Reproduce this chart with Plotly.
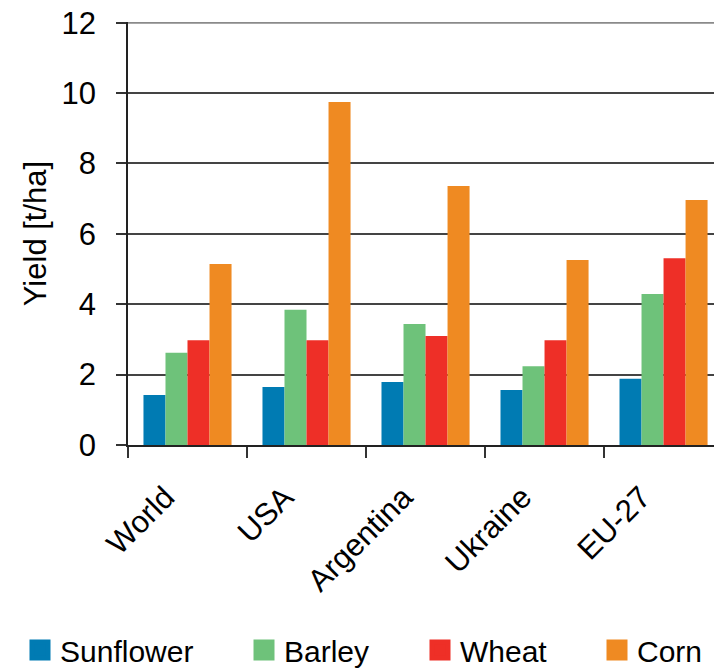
import plotly.graph_objects as go

regions = ["World", "USA", "Argentina", "Ukraine", "EU-27"]
crops = ["Sunflower", "Barley", "Wheat", "Corn"]
sunflower = [1.42, 1.65, 1.79, 1.56, 1.88]
barley = [2.62, 3.84, 3.44, 2.24, 4.29]
wheat = [2.98, 2.98, 3.10, 2.98, 5.31]
corn = [5.14, 9.75, 7.36, 5.26, 6.96]
colors = ["#007BB3", "#6EC27A", "#EE2F27", "#EF8A22"]
y_ticks = [0, 2, 4, 6, 8, 10, 12]

series = [sunflower, barley, wheat, corn]
FONT = "Liberation Sans, Arial, sans-serif"
TXT = 31

fig = go.Figure()
for name, vals, col in zip(crops, series, colors):
    fig.add_trace(go.Bar(x=regions, y=vals, name=name, marker_color=col,
                         marker_line_width=0, showlegend=False))

# legend entries with larger square swatches, one legend per entry
legend_x = [30, 254, 430, 607]
for i, (name, col) in enumerate(zip(crops, colors)):
    key = "legend" if i == 0 else f"legend{i + 1}"
    fig.add_trace(go.Scatter(x=[None], y=[None], mode="markers", name=name,
                             marker=dict(symbol="square", size=16, color=col,
                                         line=dict(color=col, width=5)),
                             legend=key, showlegend=True))
    fig.update_layout({key: dict(
        xref="container", yref="container",
        x=(legend_x[i] - 10) / 714, y=1 - 650 / 670,
        xanchor="left", yanchor="middle",
        orientation="h", itemsizing="trace",
        font=dict(family=FONT, size=30, color="#000"),
        bgcolor="rgba(0,0,0,0)", borderwidth=0,
    )})

# light top gridline at the upper end of the value axis
fig.add_shape(type="line", xref="paper", yref="y", x0=0, x1=1, y0=12, y1=12,
              line=dict(color="#8a8a8a", width=2), layer="below")

fig.update_layout(
    width=714, height=670,
    margin=dict(l=128, r=0, t=22, b=225),
    plot_bgcolor="white", paper_bgcolor="white",
    barmode="group", bargap=0.26, bargroupgap=0,
    font=dict(family=FONT, size=TXT, color="#000"),
    xaxis=dict(
        type="category", range=[-0.5, 4.424],
        tickson="boundaries", ticks="outside", ticklen=11, tickwidth=1.5,
        tickcolor="#333", showline=True, linecolor="#222", linewidth=1.5,
        tickangle=-45, tickfont=dict(family=FONT, size=TXT, color="#000"),
        ticklabelstandoff=20, ticklabelshift=-22,
        showgrid=False,
    ),
    yaxis=dict(
        range=[0, 12.02], tickvals=y_ticks, ticks="outside", ticklen=10,
        tickwidth=1.5, tickcolor="#333", showline=True, linecolor="#222",
        linewidth=1.5, showgrid=True, gridcolor="#444", gridwidth=1.5,
        tickfont=dict(family=FONT, size=TXT, color="#000"),
        ticklabelstandoff=14,
        title=dict(text="Yield [t/ha]", font=dict(family=FONT, size=TXT, color="#000"),
                   standoff=6),
        zeroline=False,
    ),
)

fig.write_html("out.html")
